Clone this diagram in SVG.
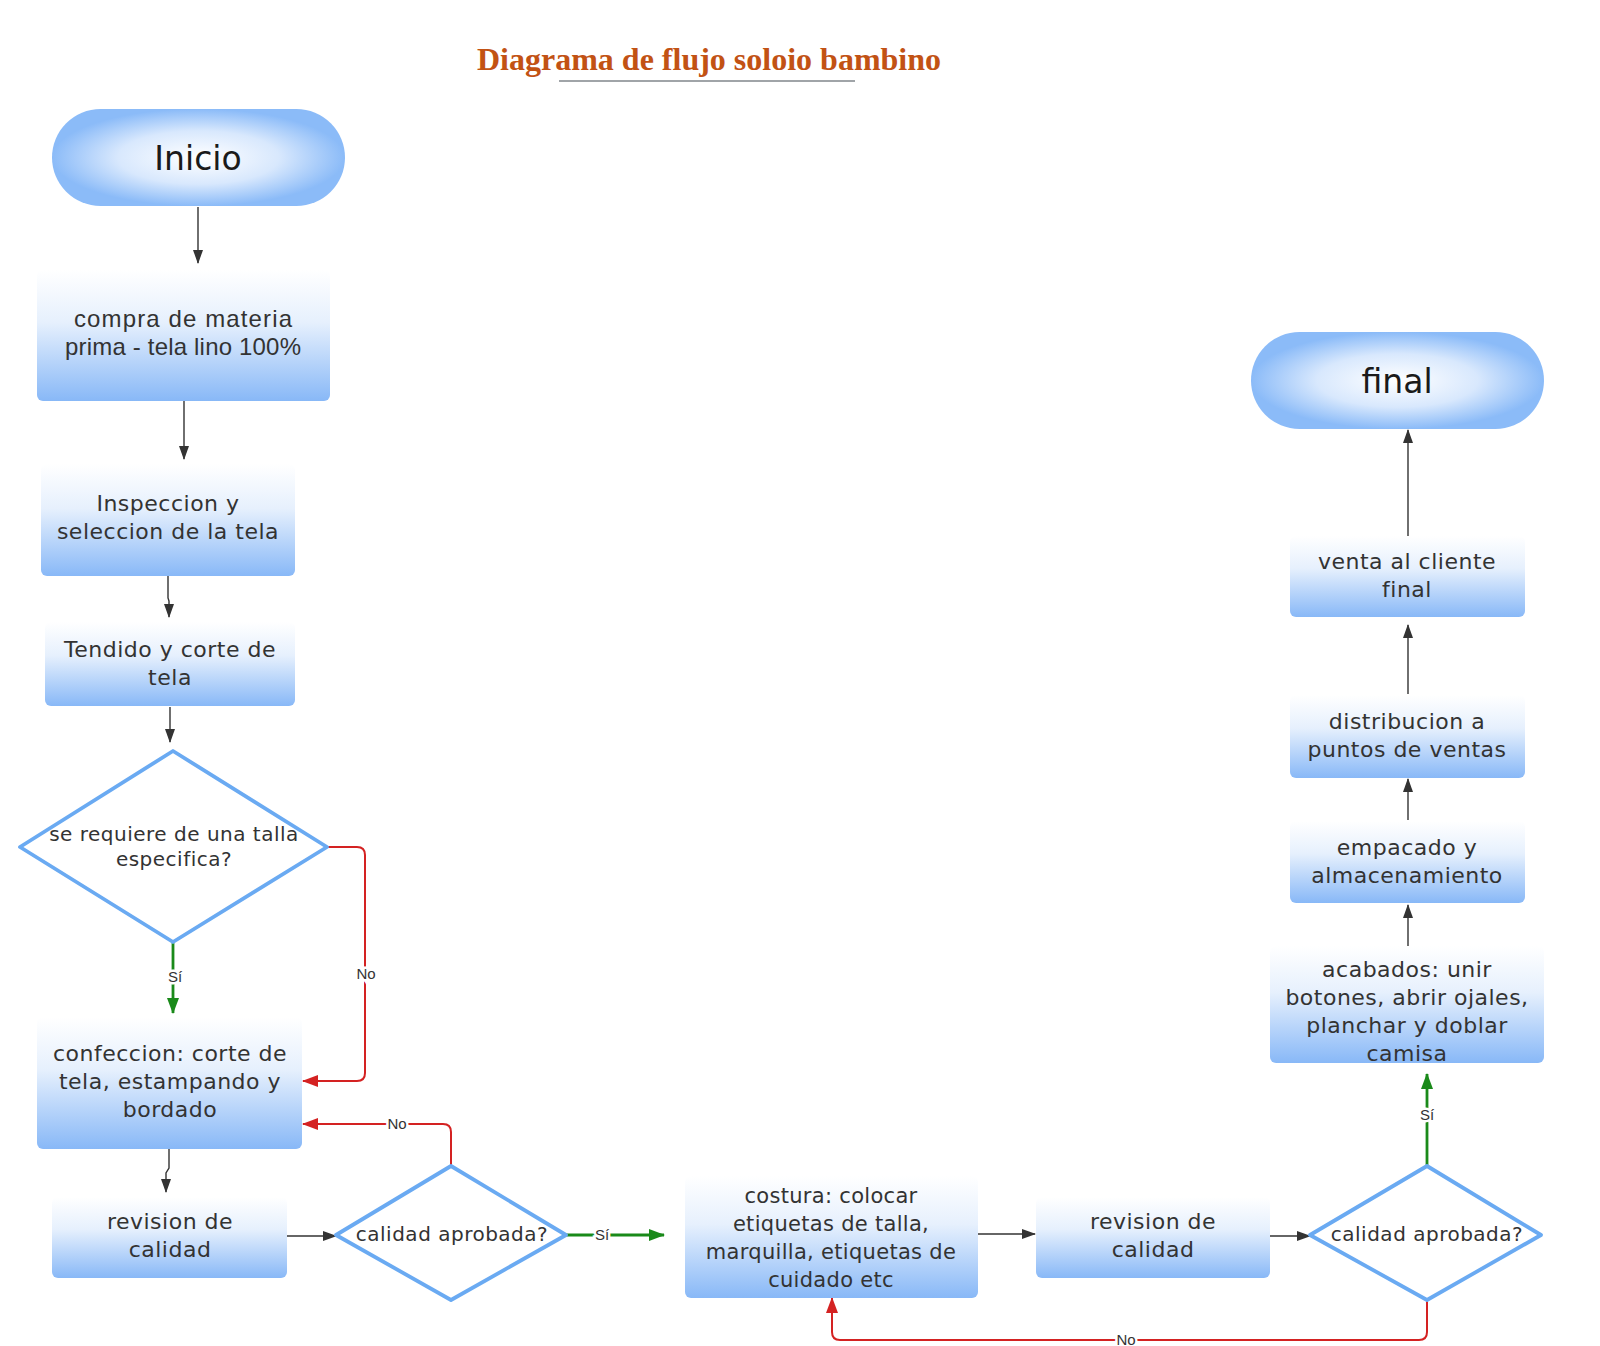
<svg xmlns="http://www.w3.org/2000/svg" width="1600" height="1346" viewBox="0 0 1600 1346">
<style>
.box{fill:url(#boxGrad);}
.term{fill:url(#termGrad);}
.dia{fill:#ffffff;stroke:#6aaaf2;stroke-width:3.8;stroke-linejoin:round;}
.t{font-family:"DejaVu Sans",sans-serif;font-size:22px;letter-spacing:0.5px;fill:#333333;text-anchor:middle;}
.td{font-family:"DejaVu Sans",sans-serif;font-size:20px;letter-spacing:0.5px;fill:#333333;text-anchor:middle;}
.tc{font-family:"Liberation Sans",Arial,sans-serif;font-size:24px;fill:#333333;text-anchor:middle;}
.big{font-family:"DejaVu Sans",sans-serif;font-size:33px;fill:#1a1a1a;text-anchor:middle;}
.lbl{font-family:"Liberation Sans",Arial,sans-serif;font-size:15px;fill:#333333;text-anchor:middle;paint-order:stroke;stroke:#ffffff;stroke-width:5px;}
.dk{fill:none;stroke:#333333;stroke-width:1.4;}
.gr{fill:none;stroke:#1a8a1a;stroke-width:2.8;}
.rd{fill:none;stroke:#d42222;stroke-width:2;}
</style>
<defs>
<linearGradient id="boxGrad" x1="0" y1="0" x2="0" y2="1">
<stop offset="0" stop-color="#ffffff"/>
<stop offset="0.4" stop-color="#e6f0fd"/>
<stop offset="1" stop-color="#88b8f7"/>
</linearGradient>
<radialGradient id="termGrad" cx="0.5" cy="0.5" r="0.5">
<stop offset="0" stop-color="#ffffff"/>
<stop offset="0.55" stop-color="#d8e8fd"/>
<stop offset="1" stop-color="#8bbbf8"/>
</radialGradient>
<marker id="aDk" markerUnits="userSpaceOnUse" markerWidth="14" markerHeight="10" refX="13" refY="5" orient="auto"><path d="M0,0 L14,5 L0,10 z" fill="#333333"/></marker>
<marker id="aGr" markerUnits="userSpaceOnUse" markerWidth="16" markerHeight="12" refX="15" refY="6" orient="auto"><path d="M0,0 L16,6 L0,12 z" fill="#1a8a1a"/></marker>
<marker id="aRd" markerUnits="userSpaceOnUse" markerWidth="16" markerHeight="12" refX="15" refY="6" orient="auto"><path d="M0,0 L16,6 L0,12 z" fill="#d42222"/></marker>
</defs>
<rect width="1600" height="1346" fill="#ffffff"/>

<g id="title">
<text x="709" y="70" font-family="Liberation Serif,serif" font-weight="bold" font-size="32" fill="#c25214" text-anchor="middle">Diagrama de flujo soloio bambino</text>
<line x1="559" y1="81" x2="855" y2="81" stroke="#a0a4a8" stroke-width="2"/>
</g>

<g id="connectors">
<path class="dk" d="M198,207 V263" marker-end="url(#aDk)"/>
<path class="dk" d="M184,401 V459" marker-end="url(#aDk)"/>
<path class="dk" d="M168,576 V598 L169,601 V617" marker-end="url(#aDk)"/>
<path class="dk" d="M170,707 V742" marker-end="url(#aDk)"/>
<path class="gr" d="M173,942 V1013" marker-end="url(#aGr)"/>
<path class="rd" d="M327,847 H357 Q365,847 365,855 V1073 Q365,1081 357,1081 H303" marker-end="url(#aRd)"/>
<path class="dk" d="M169,1149 V1168 L166,1173 V1192" marker-end="url(#aDk)"/>
<path class="dk" d="M287,1236 H336" marker-end="url(#aDk)"/>
<path class="rd" d="M451,1166 V1132 Q451,1124 443,1124 H303" marker-end="url(#aRd)"/>
<path class="gr" d="M566,1235 H664" marker-end="url(#aGr)"/>
<path class="dk" d="M978,1234 H1035" marker-end="url(#aDk)"/>
<path class="dk" d="M1270,1236 H1310" marker-end="url(#aDk)"/>
<path class="rd" d="M1427,1300 V1332 Q1427,1340 1419,1340 H840 Q832,1340 832,1332 V1298" marker-end="url(#aRd)"/>
<path class="gr" d="M1427,1166 V1074" marker-end="url(#aGr)"/>
<path class="dk" d="M1408,946 V905" marker-end="url(#aDk)"/>
<path class="dk" d="M1408,820 V779" marker-end="url(#aDk)"/>
<path class="dk" d="M1408,694 V625" marker-end="url(#aDk)"/>
<path class="dk" d="M1408,536 V430" marker-end="url(#aDk)"/>
<text class="lbl" x="175" y="982">Sí</text>
<text class="lbl" x="366" y="979">No</text>
<text class="lbl" x="397" y="1129">No</text>
<text class="lbl" x="602" y="1240">Sí</text>
<text class="lbl" x="1126" y="1345">No</text>
<text class="lbl" x="1427" y="1120">Sí</text>
</g>

<g id="inicio">
<rect class="term" x="52" y="109" width="293" height="97" rx="48.5"/>
<text class="big" x="198" y="170">Inicio</text>
</g>
<g id="compra">
<rect class="box" x="37" y="270" width="293" height="131" rx="6"/>
<text class="tc" x="183" y="327" textLength="218" lengthAdjust="spacing">compra de materia</text>
<text class="tc" x="183" y="355" textLength="236" lengthAdjust="spacing">prima - tela lino 100%</text>
</g>
<g id="inspeccion">
<rect class="box" x="41" y="464" width="254" height="112" rx="6"/>
<text class="t" x="168" y="511">Inspeccion y</text>
<text class="t" x="168" y="539">seleccion de la tela</text>
</g>
<g id="tendido">
<rect class="box" x="45" y="622" width="250" height="84" rx="6"/>
<text class="t" x="170" y="657">Tendido y corte de</text>
<text class="t" x="170" y="685">tela</text>
</g>
<g id="decision-talla">
<polygon class="dia" points="173,751 327,847 173,942 20,847"/>
<text class="td" x="174" y="841">se requiere de una talla</text>
<text class="td" x="174" y="866">especifica?</text>
</g>
<g id="confeccion">
<rect class="box" x="37" y="1017" width="265" height="132" rx="6"/>
<text class="t" x="170" y="1061">confeccion: corte de</text>
<text class="t" x="170" y="1089">tela, estampando y</text>
<text class="t" x="170" y="1117">bordado</text>
</g>
<g id="revision1">
<rect class="box" x="52" y="1197" width="235" height="81" rx="6"/>
<text class="t" x="170" y="1229">revision de</text>
<text class="t" x="170" y="1257">calidad</text>
</g>
<g id="decision-calidad1">
<polygon class="dia" points="451,1166 566,1235 451,1300 336,1235"/>
<text class="td" x="452" y="1241">calidad aprobada?</text>
</g>
<g id="costura">
<rect class="box" x="685" y="1176" width="293" height="122" rx="6"/>
<text class="t" x="831" y="1203" style="font-size:21px;letter-spacing:0.3px">costura: colocar</text>
<text class="t" x="831" y="1231" style="font-size:21px;letter-spacing:0.3px">etiquetas de talla,</text>
<text class="t" x="831" y="1259" style="font-size:21px;letter-spacing:0.3px">marquilla, etiquetas de</text>
<text class="t" x="831" y="1287" style="font-size:21px;letter-spacing:0.3px">cuidado etc</text>
</g>
<g id="revision2">
<rect class="box" x="1036" y="1197" width="234" height="81" rx="6"/>
<text class="t" x="1153" y="1229">revision de</text>
<text class="t" x="1153" y="1257">calidad</text>
</g>
<g id="decision-calidad2">
<polygon class="dia" points="1427,1166 1541,1235 1427,1300 1310,1235"/>
<text class="td" x="1427" y="1241">calidad aprobada?</text>
</g>
<g id="acabados">
<rect class="box" x="1270" y="946" width="274" height="117" rx="6"/>
<text class="t" x="1407" y="977">acabados: unir</text>
<text class="t" x="1407" y="1005">botones, abrir ojales,</text>
<text class="t" x="1407" y="1033">planchar y doblar</text>
<text class="t" x="1407" y="1061">camisa</text>
</g>
<g id="empacado">
<rect class="box" x="1290" y="821" width="235" height="82" rx="6"/>
<text class="t" x="1407" y="855">empacado y</text>
<text class="t" x="1407" y="883">almacenamiento</text>
</g>
<g id="distribucion">
<rect class="box" x="1290" y="695" width="235" height="83" rx="6"/>
<text class="t" x="1407" y="729">distribucion a</text>
<text class="t" x="1407" y="757">puntos de ventas</text>
</g>
<g id="venta">
<rect class="box" x="1290" y="536" width="235" height="81" rx="6"/>
<text class="t" x="1407" y="569">venta al cliente</text>
<text class="t" x="1407" y="597">final</text>
</g>
<g id="final">
<rect class="term" x="1251" y="332" width="293" height="97" rx="48.5"/>
<text class="big" x="1397" y="393">final</text>
</g>
</svg>
